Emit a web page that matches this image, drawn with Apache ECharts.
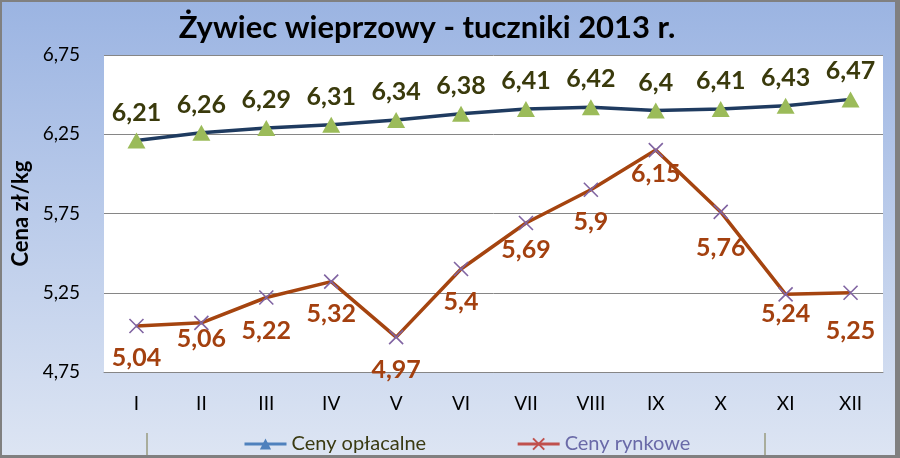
<!DOCTYPE html>
<html>
<head>
<meta charset="utf-8">
<script src="https://cdn.jsdelivr.net/npm/echarts@6/dist/echarts.min.js"></script>
<style>html,body{margin:0;padding:0;}#c{width:900px;height:458px;}</style>
</head>
<body>
<div id="c"></div>
<script>
var titleText = 'Żywiec wieprzowy - tuczniki 2013 r.';
var yAxisName = 'Cena zł/kg';
var months = ['I','II','III','IV','V','VI','VII','VIII','IX','X','XI','XII'];
var seriesNames = ['Ceny opłacalne', 'Ceny rynkowe'];
var cenyOplacalne = [6.21, 6.26, 6.29, 6.31, 6.34, 6.38, 6.41, 6.42, 6.40, 6.41, 6.43, 6.47];
var cenyRynkowe = [5.04, 5.06, 5.22, 5.32, 4.97, 5.40, 5.69, 5.90, 6.15, 5.76, 5.24, 5.25];
var yMin = 4.75, yMax = 6.75, yStep = 0.5;

// label vertical shifts (styling only)
var rynkoweLabelShift = [32, 16, 33, 32, 33, 33, 27, 32, 24, 36, 20, 38];

function fmt(v) { return String(v).replace('.', ','); }

var chart = echarts.init(document.getElementById('c'), null, {renderer: 'canvas'});
var FONT = 'Lato, "Open Sans", sans-serif';

var option = {
  backgroundColor: new echarts.graphic.LinearGradient(0, 0, 0, 1, [
    {offset: 0, color: '#9bb4e2'},
    {offset: 1, color: '#dde5f3'}
  ]),
  animation: false,
  textStyle: {fontFamily: FONT},
  title: {
    text: titleText,
    left: 422, top: 7, textAlign: 'center',
    textStyle: {fontFamily: FONT, fontSize: 31, fontWeight: 'bold', color: '#000000'}
  },
  grid: {
    left: 104, right: 17, top: 55, bottom: 86,
    show: true, backgroundColor: '#ffffff', borderWidth: 0
  },
  legend: {
    left: 238, top: 429,
    itemWidth: 42, itemHeight: 14, itemGap: 90,
    textStyle: {fontFamily: FONT, fontSize: 20},
    data: [
      {name: seriesNames[0], textStyle: {color: '#3a3a12'},
       itemStyle: {color: '#4f81bd', borderWidth: 0}, lineStyle: {color: '#4f81bd', width: 3}},
      {name: seriesNames[1], textStyle: {color: '#6a6aa8'},
       itemStyle: {color: '#c0504d', borderColor: '#c0504d'}, lineStyle: {color: '#c0504d', width: 3}}
    ]
  },
  xAxis: {
    type: 'category',
    data: months,
    boundaryGap: true,
    axisLine: {show: true, lineStyle: {color: '#868686', width: 1}},
    axisTick: {show: false},
    axisLabel: {color: '#000000', fontSize: 19, fontFamily: FONT, margin: 22}
  },
  yAxis: {
    type: 'value',
    min: yMin, max: yMax, interval: yStep,
    name: yAxisName,
    nameLocation: 'middle',
    nameGap: 64,
    nameRotate: 90,
    nameTextStyle: {fontFamily: FONT, fontSize: 22, fontWeight: 'bold', color: '#000000'},
    axisLine: {show: false},
    axisTick: {show: false},
    splitLine: {show: true, lineStyle: {color: '#868686', width: 1}},
    axisLabel: {color: '#000000', fontSize: 19, fontFamily: FONT, margin: 24,
      formatter: function (v) { return fmt(+v.toFixed(2)).replace(/^(\d,\d)$/, '$10'); }}
  },
  series: [
    {
      name: seriesNames[0],
      type: 'line',
      data: cenyOplacalne,
      symbol: 'triangle',
      symbolSize: [18, 16],
      itemStyle: {color: '#9bbb59', borderWidth: 0},
      lineStyle: {color: '#1f3b60', width: 3.5},
      label: {
        show: true, position: 'inside', offset: [0, -28],
        fontFamily: FONT, fontSize: 25, fontWeight: 'bold', color: '#3a3a0c',
        formatter: function (p) { return fmt(p.value); }
      },
      z: 3
    },
    {
      name: seriesNames[1],
      type: 'line',
      data: cenyRynkowe.map(function (v, i) {
        return {value: v, label: {offset: [0, rynkoweLabelShift[i]]}};
      }),
      symbol: 'path://M0,0L10,10M10,0L0,10',
      symbolSize: 14,
      itemStyle: {color: '#8064a2', borderColor: '#8064a2', borderWidth: 1.6},
      lineStyle: {color: '#a5440f', width: 3.5},
      label: {
        show: true, position: 'inside',
        fontFamily: FONT, fontSize: 25, fontWeight: 'bold', color: '#a3400f',
        formatter: function (p) { return fmt(p.value); }
      },
      z: 2
    }
  ],
  graphic: [
    {type: 'line', shape: {x1: 147, y1: 433, x2: 147, y2: 455}, style: {stroke: '#a9ad9c', lineWidth: 2}, silent: true},
    {type: 'line', shape: {x1: 765, y1: 433, x2: 765, y2: 455}, style: {stroke: '#a9ad9c', lineWidth: 2}, silent: true},
    {type: 'rect', shape: {x: 0, y: 0, width: 900, height: 2}, style: {fill: '#808080'}, silent: true},
    {type: 'rect', shape: {x: 0, y: 0, width: 2, height: 458}, style: {fill: '#808080'}, silent: true},
    {type: 'rect', shape: {x: 895, y: 0, width: 5, height: 458}, style: {fill: '#808080'}, silent: true},
    {type: 'rect', shape: {x: 0, y: 455, width: 900, height: 3}, style: {fill: '#808080'}, silent: true}
  ]
};
chart.setOption(option);
</script>
</body>
</html>
